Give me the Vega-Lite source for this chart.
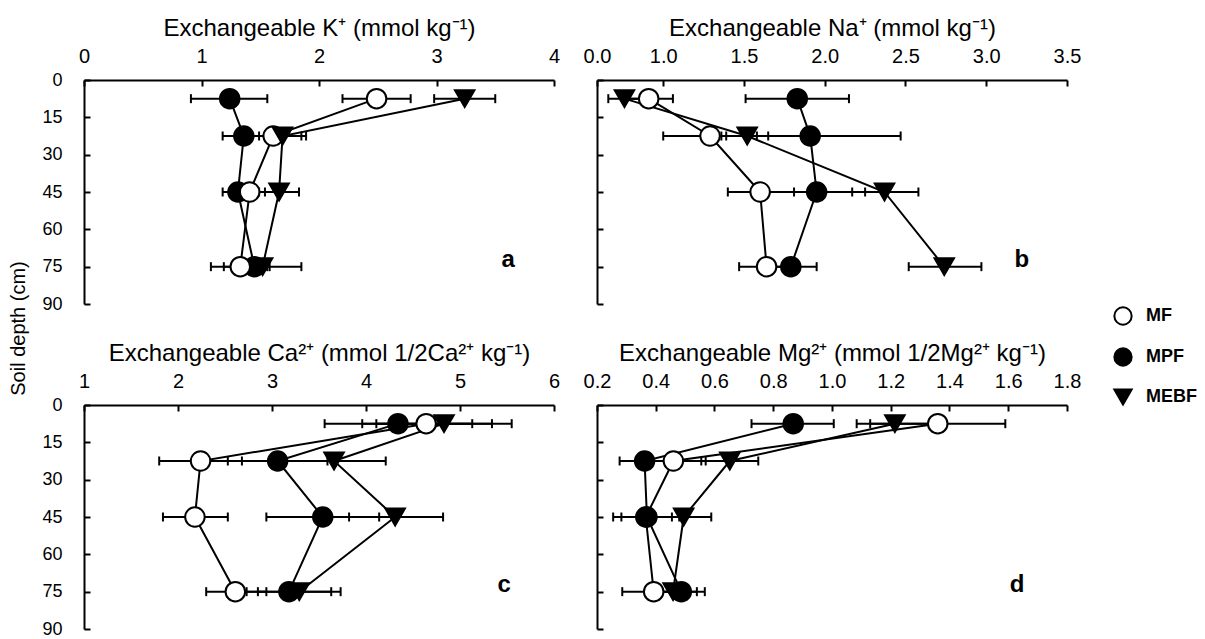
{
  "$schema": "https://vega.github.io/schema/vega-lite/v6.json",
  "background": "white",
  "autosize": {"type": "pad"},
  "padding": {"left": 8, "top": 16, "right": 2, "bottom": 2},
  "datasets": {
    "ions": [
      {"ion": "K", "trt": "MPF", "depth": 7.5, "value": 1.24, "lo": 0.91, "hi": 1.56},
      {"ion": "K", "trt": "MPF", "depth": 22.5, "value": 1.36, "lo": 1.18, "hi": 1.54},
      {"ion": "K", "trt": "MPF", "depth": 45, "value": 1.31, "lo": 1.18, "hi": 1.44},
      {"ion": "K", "trt": "MPF", "depth": 75, "value": 1.45, "lo": 1.34, "hi": 1.56},
      {"ion": "K", "trt": "MF", "depth": 7.5, "value": 2.49, "lo": 2.2, "hi": 2.78},
      {"ion": "K", "trt": "MF", "depth": 22.5, "value": 1.61, "lo": 1.39, "hi": 1.85},
      {"ion": "K", "trt": "MF", "depth": 45, "value": 1.41, "lo": 1.28, "hi": 1.54},
      {"ion": "K", "trt": "MF", "depth": 75, "value": 1.33, "lo": 1.08, "hi": 1.58},
      {"ion": "K", "trt": "MEBF", "depth": 7.5, "value": 3.24, "lo": 2.98, "hi": 3.5},
      {"ion": "K", "trt": "MEBF", "depth": 22.5, "value": 1.69, "lo": 1.49, "hi": 1.89},
      {"ion": "K", "trt": "MEBF", "depth": 45, "value": 1.66, "lo": 1.49, "hi": 1.83},
      {"ion": "K", "trt": "MEBF", "depth": 75, "value": 1.52, "lo": 1.19, "hi": 1.85},
      {"ion": "Na", "trt": "MPF", "depth": 7.5, "value": 1.83, "lo": 1.51, "hi": 2.15},
      {"ion": "Na", "trt": "MPF", "depth": 22.5, "value": 1.91, "lo": 1.36, "hi": 2.47},
      {"ion": "Na", "trt": "MPF", "depth": 45, "value": 1.95, "lo": 1.65, "hi": 2.25},
      {"ion": "Na", "trt": "MPF", "depth": 75, "value": 1.79, "lo": 1.63, "hi": 1.95},
      {"ion": "Na", "trt": "MF", "depth": 7.5, "value": 0.91, "lo": 0.76, "hi": 1.06},
      {"ion": "Na", "trt": "MF", "depth": 22.5, "value": 1.29, "lo": 1.0, "hi": 1.58},
      {"ion": "Na", "trt": "MF", "depth": 45, "value": 1.6, "lo": 1.4, "hi": 1.81},
      {"ion": "Na", "trt": "MF", "depth": 75, "value": 1.64, "lo": 1.47, "hi": 1.81},
      {"ion": "Na", "trt": "MEBF", "depth": 7.5, "value": 0.76, "lo": 0.66, "hi": 0.86},
      {"ion": "Na", "trt": "MEBF", "depth": 22.5, "value": 1.52, "lo": 1.39, "hi": 1.65},
      {"ion": "Na", "trt": "MEBF", "depth": 45, "value": 2.37, "lo": 2.17, "hi": 2.58},
      {"ion": "Na", "trt": "MEBF", "depth": 75, "value": 2.74, "lo": 2.52, "hi": 2.97},
      {"ion": "Ca", "trt": "MPF", "depth": 7.5, "value": 4.34, "lo": 3.56, "hi": 5.13},
      {"ion": "Ca", "trt": "MPF", "depth": 22.5, "value": 3.06, "lo": 2.53, "hi": 3.59},
      {"ion": "Ca", "trt": "MPF", "depth": 45, "value": 3.54, "lo": 2.94, "hi": 4.14},
      {"ion": "Ca", "trt": "MPF", "depth": 75, "value": 3.18, "lo": 2.73, "hi": 3.63},
      {"ion": "Ca", "trt": "MF", "depth": 7.5, "value": 4.64, "lo": 3.96, "hi": 5.34},
      {"ion": "Ca", "trt": "MF", "depth": 22.5, "value": 2.24, "lo": 1.8, "hi": 2.68},
      {"ion": "Ca", "trt": "MF", "depth": 45, "value": 2.18, "lo": 1.84, "hi": 2.53},
      {"ion": "Ca", "trt": "MF", "depth": 75, "value": 2.61, "lo": 2.3, "hi": 2.94},
      {"ion": "Ca", "trt": "MEBF", "depth": 7.5, "value": 4.83, "lo": 4.11, "hi": 5.55},
      {"ion": "Ca", "trt": "MEBF", "depth": 22.5, "value": 3.66, "lo": 3.11, "hi": 4.21},
      {"ion": "Ca", "trt": "MEBF", "depth": 45, "value": 4.31, "lo": 3.82, "hi": 4.82},
      {"ion": "Ca", "trt": "MEBF", "depth": 75, "value": 3.29, "lo": 2.85, "hi": 3.73},
      {"ion": "Mg", "trt": "MEBF", "depth": 7.5, "value": 1.214, "lo": 1.084, "hi": 1.344},
      {"ion": "Mg", "trt": "MEBF", "depth": 22.5, "value": 0.652, "lo": 0.555, "hi": 0.749},
      {"ion": "Mg", "trt": "MEBF", "depth": 45, "value": 0.495, "lo": 0.4, "hi": 0.589},
      {"ion": "Mg", "trt": "MEBF", "depth": 75, "value": 0.459, "lo": 0.38, "hi": 0.54},
      {"ion": "Mg", "trt": "MF", "depth": 7.5, "value": 1.36, "lo": 1.13, "hi": 1.59},
      {"ion": "Mg", "trt": "MF", "depth": 22.5, "value": 0.46, "lo": 0.36, "hi": 0.57},
      {"ion": "Mg", "trt": "MF", "depth": 45, "value": 0.366, "lo": 0.255, "hi": 0.48},
      {"ion": "Mg", "trt": "MF", "depth": 75, "value": 0.393, "lo": 0.286, "hi": 0.5},
      {"ion": "Mg", "trt": "MPF", "depth": 7.5, "value": 0.868, "lo": 0.726, "hi": 1.006},
      {"ion": "Mg", "trt": "MPF", "depth": 22.5, "value": 0.362, "lo": 0.277, "hi": 0.447},
      {"ion": "Mg", "trt": "MPF", "depth": 45, "value": 0.37, "lo": 0.283, "hi": 0.455},
      {"ion": "Mg", "trt": "MPF", "depth": 75, "value": 0.487, "lo": 0.407, "hi": 0.567}
    ],
    "letters": [
      {"ion": "K", "label": "a", "value": 3.61, "depth": 72.5},
      {"ion": "Na", "label": "b", "value": 3.22, "depth": 72.5},
      {"ion": "Ca", "label": "c", "value": 5.47, "depth": 72.5},
      {"ion": "Mg", "label": "d", "value": 1.63, "depth": 72.5}
    ]
  },
  "columns": 2,
  "bounds": "flush",
  "spacing": {"row": 101, "column": 43},
  "concat": [
    {
      "width": 470, "height": 224,
      "encoding": {"y": {"field": "depth", "type": "quantitative", "scale": {"domain": [0, 90], "reverse": true, "nice": false, "zero": false}, "axis": {"values": [0, 15, 30, 45, 60, 75, 90], "title": "Soil depth (cm)", "titleFontSize": 20, "titleX": -66, "titleY": 248, "titleAngle": -90, "titleAlign": "center", "titleBaseline": "middle"}}},
      "layer": [
        {"data": {"name": "ions"}, "transform": [{"filter": "datum.ion === 'K'"}], "mark": {"type": "rule", "color": "black", "strokeWidth": 2},
         "encoding": {"x": {"field": "lo", "type": "quantitative", "scale": {"domain": [0, 4], "nice": false, "zero": false}, "axis": {"orient": "top", "title": "Exchangeable K⁺ (mmol kg⁻¹)", "values": [0, 1, 2, 3, 4], "format": "d"}}, "x2": {"field": "hi"}}},
        {"data": {"name": "ions"}, "transform": [{"filter": "datum.ion === 'K'"}], "mark": {"type": "tick", "orient": "vertical", "size": 9, "thickness": 2, "color": "black", "opacity": 1},
         "encoding": {"x": {"field": "lo", "type": "quantitative", "scale": {"domain": [0, 4], "nice": false, "zero": false}, "axis": {"orient": "top", "title": "Exchangeable K⁺ (mmol kg⁻¹)", "values": [0, 1, 2, 3, 4], "format": "d"}}}},
        {"data": {"name": "ions"}, "transform": [{"filter": "datum.ion === 'K'"}], "mark": {"type": "tick", "orient": "vertical", "size": 9, "thickness": 2, "color": "black", "opacity": 1},
         "encoding": {"x": {"field": "hi", "type": "quantitative", "scale": {"domain": [0, 4], "nice": false, "zero": false}, "axis": {"orient": "top", "title": "Exchangeable K⁺ (mmol kg⁻¹)", "values": [0, 1, 2, 3, 4], "format": "d"}}}},
        {"data": {"name": "ions"}, "transform": [{"filter": "datum.ion === 'K'"}], "mark": {"type": "line", "color": "black", "strokeWidth": 2},
         "encoding": {"x": {"field": "value", "type": "quantitative", "scale": {"domain": [0, 4], "nice": false, "zero": false}, "axis": {"orient": "top", "title": "Exchangeable K⁺ (mmol kg⁻¹)", "values": [0, 1, 2, 3, 4], "format": "d"}}, "detail": {"field": "trt"}, "order": {"field": "depth", "type": "quantitative"}}},
        {"data": {"name": "ions"}, "transform": [{"filter": "datum.ion === 'K'"}], "mark": {"type": "point", "filled": true, "opacity": 1, "strokeWidth": 2, "size": 380},
         "encoding": {"x": {"field": "value", "type": "quantitative", "scale": {"domain": [0, 4], "nice": false, "zero": false}, "axis": {"orient": "top", "title": "Exchangeable K⁺ (mmol kg⁻¹)", "values": [0, 1, 2, 3, 4], "format": "d"}},
           "shape": {"field": "trt", "type": "nominal", "scale": {"domain": ["MF", "MPF", "MEBF"], "range": ["circle", "circle", "triangle-down"]}, "legend": {"title": null, "orient": "none", "legendX": 1029, "legendY": 226}},
           "fill": {"field": "trt", "type": "nominal", "scale": {"domain": ["MF", "MPF", "MEBF"], "range": ["white", "black", "black"]}, "legend": {"title": null, "orient": "none", "legendX": 1029, "legendY": 226}},
           "stroke": {"field": "trt", "type": "nominal", "scale": {"domain": ["MF", "MPF", "MEBF"], "range": ["black", "black", "black"]}, "legend": {"title": null, "orient": "none", "legendX": 1029, "legendY": 226}}}},
        {"data": {"name": "letters"}, "transform": [{"filter": "datum.ion === 'K'"}], "mark": {"type": "text", "fontSize": 24, "fontWeight": "bold", "font": "Liberation Sans", "color": "black", "align": "center", "baseline": "middle"},
         "encoding": {"x": {"field": "value", "type": "quantitative", "scale": {"domain": [0, 4], "nice": false, "zero": false}, "axis": {"orient": "top", "title": "Exchangeable K⁺ (mmol kg⁻¹)", "values": [0, 1, 2, 3, 4], "format": "d"}}, "text": {"field": "label"}}}
      ]
    },
    {
      "width": 470, "height": 224,
      "encoding": {"y": {"field": "depth", "type": "quantitative", "scale": {"domain": [0, 90], "reverse": true, "nice": false, "zero": false}, "axis": {"values": [0, 15, 30, 45, 60, 75, 90], "title": null, "labels": false}}},
      "layer": [
        {"data": {"name": "ions"}, "transform": [{"filter": "datum.ion === 'Na'"}], "mark": {"type": "rule", "color": "black", "strokeWidth": 2},
         "encoding": {"x": {"field": "lo", "type": "quantitative", "scale": {"domain": [0.59, 3.5], "nice": false, "zero": false}, "axis": {"orient": "top", "title": "Exchangeable Na⁺ (mmol kg⁻¹)", "values": [0.59, 1, 1.5, 2, 2.5, 3, 3.5], "labelExpr": "datum.value < 0.9 ? '0.0' : format(datum.value, '.1f')"}}, "x2": {"field": "hi"}}},
        {"data": {"name": "ions"}, "transform": [{"filter": "datum.ion === 'Na'"}], "mark": {"type": "tick", "orient": "vertical", "size": 9, "thickness": 2, "color": "black", "opacity": 1},
         "encoding": {"x": {"field": "lo", "type": "quantitative", "scale": {"domain": [0.59, 3.5], "nice": false, "zero": false}, "axis": {"orient": "top", "title": "Exchangeable Na⁺ (mmol kg⁻¹)", "values": [0.59, 1, 1.5, 2, 2.5, 3, 3.5], "labelExpr": "datum.value < 0.9 ? '0.0' : format(datum.value, '.1f')"}}}},
        {"data": {"name": "ions"}, "transform": [{"filter": "datum.ion === 'Na'"}], "mark": {"type": "tick", "orient": "vertical", "size": 9, "thickness": 2, "color": "black", "opacity": 1},
         "encoding": {"x": {"field": "hi", "type": "quantitative", "scale": {"domain": [0.59, 3.5], "nice": false, "zero": false}, "axis": {"orient": "top", "title": "Exchangeable Na⁺ (mmol kg⁻¹)", "values": [0.59, 1, 1.5, 2, 2.5, 3, 3.5], "labelExpr": "datum.value < 0.9 ? '0.0' : format(datum.value, '.1f')"}}}},
        {"data": {"name": "ions"}, "transform": [{"filter": "datum.ion === 'Na'"}], "mark": {"type": "line", "color": "black", "strokeWidth": 2},
         "encoding": {"x": {"field": "value", "type": "quantitative", "scale": {"domain": [0.59, 3.5], "nice": false, "zero": false}, "axis": {"orient": "top", "title": "Exchangeable Na⁺ (mmol kg⁻¹)", "values": [0.59, 1, 1.5, 2, 2.5, 3, 3.5], "labelExpr": "datum.value < 0.9 ? '0.0' : format(datum.value, '.1f')"}}, "detail": {"field": "trt"}, "order": {"field": "depth", "type": "quantitative"}}},
        {"data": {"name": "ions"}, "transform": [{"filter": "datum.ion === 'Na'"}], "mark": {"type": "point", "filled": true, "opacity": 1, "strokeWidth": 2, "size": 380},
         "encoding": {"x": {"field": "value", "type": "quantitative", "scale": {"domain": [0.59, 3.5], "nice": false, "zero": false}, "axis": {"orient": "top", "title": "Exchangeable Na⁺ (mmol kg⁻¹)", "values": [0.59, 1, 1.5, 2, 2.5, 3, 3.5], "labelExpr": "datum.value < 0.9 ? '0.0' : format(datum.value, '.1f')"}},
           "shape": {"field": "trt", "type": "nominal", "scale": {"domain": ["MF", "MPF", "MEBF"], "range": ["circle", "circle", "triangle-down"]}, "legend": {"title": null, "orient": "none", "legendX": 1029, "legendY": 226}},
           "fill": {"field": "trt", "type": "nominal", "scale": {"domain": ["MF", "MPF", "MEBF"], "range": ["white", "black", "black"]}, "legend": {"title": null, "orient": "none", "legendX": 1029, "legendY": 226}},
           "stroke": {"field": "trt", "type": "nominal", "scale": {"domain": ["MF", "MPF", "MEBF"], "range": ["black", "black", "black"]}, "legend": {"title": null, "orient": "none", "legendX": 1029, "legendY": 226}}}},
        {"data": {"name": "letters"}, "transform": [{"filter": "datum.ion === 'Na'"}], "mark": {"type": "text", "fontSize": 24, "fontWeight": "bold", "font": "Liberation Sans", "color": "black", "align": "center", "baseline": "middle"},
         "encoding": {"x": {"field": "value", "type": "quantitative", "scale": {"domain": [0.59, 3.5], "nice": false, "zero": false}, "axis": {"orient": "top", "title": "Exchangeable Na⁺ (mmol kg⁻¹)", "values": [0.59, 1, 1.5, 2, 2.5, 3, 3.5], "labelExpr": "datum.value < 0.9 ? '0.0' : format(datum.value, '.1f')"}}, "text": {"field": "label"}}}
      ]
    },
    {
      "width": 470, "height": 224,
      "encoding": {"y": {"field": "depth", "type": "quantitative", "scale": {"domain": [0, 90], "reverse": true, "nice": false, "zero": false}, "axis": {"values": [0, 15, 30, 45, 60, 75, 90], "title": null}}},
      "layer": [
        {"data": {"name": "ions"}, "transform": [{"filter": "datum.ion === 'Ca'"}], "mark": {"type": "rule", "color": "black", "strokeWidth": 2},
         "encoding": {"x": {"field": "lo", "type": "quantitative", "scale": {"domain": [1, 6], "nice": false, "zero": false}, "axis": {"orient": "top", "title": "Exchangeable Ca²⁺ (mmol 1/2Ca²⁺ kg⁻¹)", "values": [1, 2, 3, 4, 5, 6], "format": "d"}}, "x2": {"field": "hi"}}},
        {"data": {"name": "ions"}, "transform": [{"filter": "datum.ion === 'Ca'"}], "mark": {"type": "tick", "orient": "vertical", "size": 9, "thickness": 2, "color": "black", "opacity": 1},
         "encoding": {"x": {"field": "lo", "type": "quantitative", "scale": {"domain": [1, 6], "nice": false, "zero": false}, "axis": {"orient": "top", "title": "Exchangeable Ca²⁺ (mmol 1/2Ca²⁺ kg⁻¹)", "values": [1, 2, 3, 4, 5, 6], "format": "d"}}}},
        {"data": {"name": "ions"}, "transform": [{"filter": "datum.ion === 'Ca'"}], "mark": {"type": "tick", "orient": "vertical", "size": 9, "thickness": 2, "color": "black", "opacity": 1},
         "encoding": {"x": {"field": "hi", "type": "quantitative", "scale": {"domain": [1, 6], "nice": false, "zero": false}, "axis": {"orient": "top", "title": "Exchangeable Ca²⁺ (mmol 1/2Ca²⁺ kg⁻¹)", "values": [1, 2, 3, 4, 5, 6], "format": "d"}}}},
        {"data": {"name": "ions"}, "transform": [{"filter": "datum.ion === 'Ca'"}], "mark": {"type": "line", "color": "black", "strokeWidth": 2},
         "encoding": {"x": {"field": "value", "type": "quantitative", "scale": {"domain": [1, 6], "nice": false, "zero": false}, "axis": {"orient": "top", "title": "Exchangeable Ca²⁺ (mmol 1/2Ca²⁺ kg⁻¹)", "values": [1, 2, 3, 4, 5, 6], "format": "d"}}, "detail": {"field": "trt"}, "order": {"field": "depth", "type": "quantitative"}}},
        {"data": {"name": "ions"}, "transform": [{"filter": "datum.ion === 'Ca'"}], "mark": {"type": "point", "filled": true, "opacity": 1, "strokeWidth": 2, "size": 380},
         "encoding": {"x": {"field": "value", "type": "quantitative", "scale": {"domain": [1, 6], "nice": false, "zero": false}, "axis": {"orient": "top", "title": "Exchangeable Ca²⁺ (mmol 1/2Ca²⁺ kg⁻¹)", "values": [1, 2, 3, 4, 5, 6], "format": "d"}},
           "shape": {"field": "trt", "type": "nominal", "scale": {"domain": ["MF", "MPF", "MEBF"], "range": ["circle", "circle", "triangle-down"]}, "legend": {"title": null, "orient": "none", "legendX": 1029, "legendY": 226}},
           "fill": {"field": "trt", "type": "nominal", "scale": {"domain": ["MF", "MPF", "MEBF"], "range": ["white", "black", "black"]}, "legend": {"title": null, "orient": "none", "legendX": 1029, "legendY": 226}},
           "stroke": {"field": "trt", "type": "nominal", "scale": {"domain": ["MF", "MPF", "MEBF"], "range": ["black", "black", "black"]}, "legend": {"title": null, "orient": "none", "legendX": 1029, "legendY": 226}}}},
        {"data": {"name": "letters"}, "transform": [{"filter": "datum.ion === 'Ca'"}], "mark": {"type": "text", "fontSize": 24, "fontWeight": "bold", "font": "Liberation Sans", "color": "black", "align": "center", "baseline": "middle"},
         "encoding": {"x": {"field": "value", "type": "quantitative", "scale": {"domain": [1, 6], "nice": false, "zero": false}, "axis": {"orient": "top", "title": "Exchangeable Ca²⁺ (mmol 1/2Ca²⁺ kg⁻¹)", "values": [1, 2, 3, 4, 5, 6], "format": "d"}}, "text": {"field": "label"}}}
      ]
    },
    {
      "width": 470, "height": 224,
      "encoding": {"y": {"field": "depth", "type": "quantitative", "scale": {"domain": [0, 90], "reverse": true, "nice": false, "zero": false}, "axis": {"values": [0, 15, 30, 45, 60, 75, 90], "title": null, "labels": false}}},
      "layer": [
        {"data": {"name": "ions"}, "transform": [{"filter": "datum.ion === 'Mg'"}], "mark": {"type": "rule", "color": "black", "strokeWidth": 2},
         "encoding": {"x": {"field": "lo", "type": "quantitative", "scale": {"domain": [0.2, 1.8], "nice": false, "zero": false}, "axis": {"orient": "top", "title": "Exchangeable Mg²⁺ (mmol 1/2Mg²⁺ kg⁻¹)", "values": [0.2, 0.4, 0.6, 0.8, 1.0, 1.2, 1.4, 1.6, 1.8], "format": ".1f"}}, "x2": {"field": "hi"}}},
        {"data": {"name": "ions"}, "transform": [{"filter": "datum.ion === 'Mg'"}], "mark": {"type": "tick", "orient": "vertical", "size": 9, "thickness": 2, "color": "black", "opacity": 1},
         "encoding": {"x": {"field": "lo", "type": "quantitative", "scale": {"domain": [0.2, 1.8], "nice": false, "zero": false}, "axis": {"orient": "top", "title": "Exchangeable Mg²⁺ (mmol 1/2Mg²⁺ kg⁻¹)", "values": [0.2, 0.4, 0.6, 0.8, 1.0, 1.2, 1.4, 1.6, 1.8], "format": ".1f"}}}},
        {"data": {"name": "ions"}, "transform": [{"filter": "datum.ion === 'Mg'"}], "mark": {"type": "tick", "orient": "vertical", "size": 9, "thickness": 2, "color": "black", "opacity": 1},
         "encoding": {"x": {"field": "hi", "type": "quantitative", "scale": {"domain": [0.2, 1.8], "nice": false, "zero": false}, "axis": {"orient": "top", "title": "Exchangeable Mg²⁺ (mmol 1/2Mg²⁺ kg⁻¹)", "values": [0.2, 0.4, 0.6, 0.8, 1.0, 1.2, 1.4, 1.6, 1.8], "format": ".1f"}}}},
        {"data": {"name": "ions"}, "transform": [{"filter": "datum.ion === 'Mg'"}], "mark": {"type": "line", "color": "black", "strokeWidth": 2},
         "encoding": {"x": {"field": "value", "type": "quantitative", "scale": {"domain": [0.2, 1.8], "nice": false, "zero": false}, "axis": {"orient": "top", "title": "Exchangeable Mg²⁺ (mmol 1/2Mg²⁺ kg⁻¹)", "values": [0.2, 0.4, 0.6, 0.8, 1.0, 1.2, 1.4, 1.6, 1.8], "format": ".1f"}}, "detail": {"field": "trt"}, "order": {"field": "depth", "type": "quantitative"}}},
        {"data": {"name": "ions"}, "transform": [{"filter": "datum.ion === 'Mg'"}], "mark": {"type": "point", "filled": true, "opacity": 1, "strokeWidth": 2, "size": 380},
         "encoding": {"x": {"field": "value", "type": "quantitative", "scale": {"domain": [0.2, 1.8], "nice": false, "zero": false}, "axis": {"orient": "top", "title": "Exchangeable Mg²⁺ (mmol 1/2Mg²⁺ kg⁻¹)", "values": [0.2, 0.4, 0.6, 0.8, 1.0, 1.2, 1.4, 1.6, 1.8], "format": ".1f"}},
           "shape": {"field": "trt", "type": "nominal", "scale": {"domain": ["MF", "MPF", "MEBF"], "range": ["circle", "circle", "triangle-down"]}, "legend": {"title": null, "orient": "none", "legendX": 1029, "legendY": 226}},
           "fill": {"field": "trt", "type": "nominal", "scale": {"domain": ["MF", "MPF", "MEBF"], "range": ["white", "black", "black"]}, "legend": {"title": null, "orient": "none", "legendX": 1029, "legendY": 226}},
           "stroke": {"field": "trt", "type": "nominal", "scale": {"domain": ["MF", "MPF", "MEBF"], "range": ["black", "black", "black"]}, "legend": {"title": null, "orient": "none", "legendX": 1029, "legendY": 226}}}},
        {"data": {"name": "letters"}, "transform": [{"filter": "datum.ion === 'Mg'"}], "mark": {"type": "text", "fontSize": 24, "fontWeight": "bold", "font": "Liberation Sans", "color": "black", "align": "center", "baseline": "middle"},
         "encoding": {"x": {"field": "value", "type": "quantitative", "scale": {"domain": [0.2, 1.8], "nice": false, "zero": false}, "axis": {"orient": "top", "title": "Exchangeable Mg²⁺ (mmol 1/2Mg²⁺ kg⁻¹)", "values": [0.2, 0.4, 0.6, 0.8, 1.0, 1.2, 1.4, 1.6, 1.8], "format": ".1f"}}, "text": {"field": "label"}}}
      ]
    }
  ],
  "resolve": {
    "scale": {"x": "independent", "y": "independent", "shape": "shared", "fill": "shared", "stroke": "shared"},
    "axis": {"x": "independent", "y": "independent"},
    "legend": {"shape": "shared", "fill": "shared", "stroke": "shared"}
  },
  "config": {
    "view": {"stroke": null},
    "font": "Liberation Sans",
    "axis": {
      "grid": false,
      "domainColor": "black", "domainWidth": 2,
      "tickColor": "black", "tickWidth": 2, "tickSize": -6,
      "labelColor": "black", "labelFont": "Liberation Sans", "labelFontSize": 20,
      "labelFlush": false, "labelOverlap": false, "labelPadding": 20,
      "titleColor": "black", "titleFont": "Liberation Sans", "titleFontSize": 24, "titleFontWeight": "normal", "titlePadding": 6
    },
    "axisY": {"labelFontSize": 18, "labelPadding": 28},
    "legend": {
      "symbolSize": 300, "symbolStrokeWidth": 2,
      "labelFont": "Liberation Sans", "labelFontSize": 18, "labelFontWeight": "bold", "labelColor": "black",
      "labelOffset": 13, "rowPadding": 15, "padding": 0
    }
  }
}
